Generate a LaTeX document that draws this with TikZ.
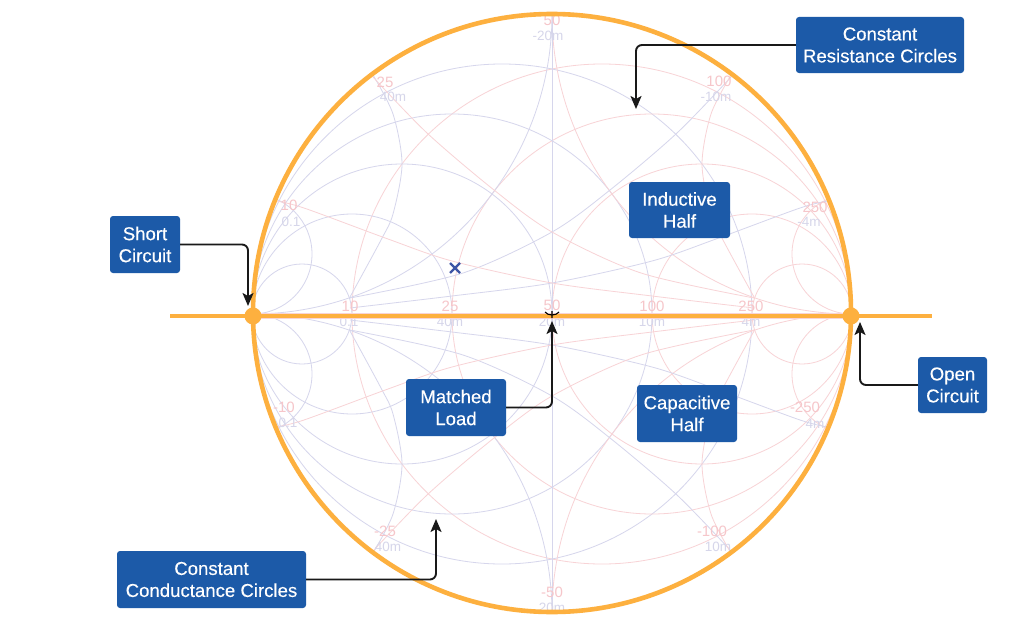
\documentclass[tikz,border=0pt]{standalone}
\usepackage{fontspec}
\setmainfont{Liberation Sans}
\newfontfamily\boxfont[FakeBold=0.25]{Liberation Sans}
\usetikzlibrary{arrows.meta}
\definecolor{orng}{HTML}{FDB03F}
\definecolor{boxb}{HTML}{1C5AA8}
\definecolor{redl}{HTML}{F8D3D6}
\definecolor{blul}{HTML}{D6D6EC}
\definecolor{redt}{HTML}{F6C6CA}
\definecolor{blut}{HTML}{D6D6EA}
\tikzset{
  redline/.style={draw=redl,line width=0.8pt},
  bluline/.style={draw=blul,line width=0.8pt},
  redlab/.style={text=redt,font=\fontsize{15}{15}\selectfont,inner sep=0pt},
  blulab/.style={text=blut,font=\fontsize{13.5}{13.5}\selectfont,inner sep=0pt},
  callout/.style={fill=boxb,draw=none,rounded corners=3pt,text=white,align=center,inner sep=0pt,
    font=\boxfont\fontsize{18.6}{22}\selectfont},
  leader/.style={draw=black!90,line width=1.9pt,rounded corners=6pt,-{Stealth[length=13pt,width=11pt,inset=3pt]}},
}
\newcommand{\bfive}{(-202,-16) (-89,-41) (0,-82) (58,-124) (125,-181) (179,-237)}
\newcommand{\btwo}{(-202,-6) (-100,-18) (0,-31) (100,-53) (164,-75) (248,-106) (276,-113)}
\newcommand{\bone}{(-202,-17) (-171,-74) (-159,-100) (-150,-150) (-159,-200) (-179,-239)}
\begin{document}
\begin{tikzpicture}[x=1pt,y=-1pt]
\useasboundingbox (0,0) rectangle (1024,626);
\fill[white] (0,0) rectangle (1024,626);
% chart grid
\begin{scope}[shift={(552,314)}]
  \clip (0,0) circle[radius=299];
  \foreach \v in {0.2,0.5,1,2,5} {
    \pgfmathsetmacro\cc{300*\v/(1+\v)}
    \pgfmathsetmacro\rr{300/(1+\v)}
    \draw[redline] (\cc,0) circle[radius=\rr];
    \draw[bluline] (-\cc,0) circle[radius=\rr];
  }
  \foreach \v in {1,5} {
    \pgfmathsetmacro\rr{300/\v}
    \draw[redline] (300,\rr) circle[radius=\rr];
    \draw[redline] (300,-\rr) circle[radius=\rr];
    \draw[bluline] (-300,\rr) circle[radius=\rr];
    \draw[bluline] (-300,-\rr) circle[radius=\rr];
  }
  \draw[bluline] (0,-300) -- (0,300);
  \foreach \sx/\sy/\st in {1/1/bluline,1/-1/bluline,-1/1/redline,-1/-1/redline} {
    \begin{scope}[xscale=\sx,yscale=\sy]
      \draw[\st] plot[smooth] coordinates {\bfive};
      \draw[\st] plot[smooth] coordinates {\btwo};
      \draw[\st] plot[smooth] coordinates {\bone};
    \end{scope}
  }
\end{scope}
% faint labels
\foreach \x/\y/\t [count=\i] in {552/20/50,385/82/25,289/205/10,719/81/100,815/207/250,
  350/306/10,450/306/25,552/305/50,652/306/100,751/306/250,
  552/592/-50,385/531/-25,284/407/-10,712/531/-100,805/407/-250}
  \node[redlab] (rl\i) at (\x,\y) {\t};
\foreach \x/\y/\t [count=\i] in {548/36/-20m,393/97/40m,291/222/0.1,716/97/-10m,809/222/-4m,
  349/322/0.1,450/322/40m,552/322/20m,652/322/10m,751/322/4m,
  552/608/20m,388/547/40m,288/423/0.1,718/547/10m,815/424/4m}
  \node[blulab] (bl\i) at (\x,\y) {\t};
% main circle and axis
\draw[redl,line width=6pt] (255,316) -- (850,316);
\draw[orng,line width=4.6pt] (552,313) circle[radius=299];
\draw[orng,line width=4pt] (170,316) -- (932,316);
\node[circle,fill=orng,minimum size=17pt,inner sep=0pt] (sc) at (253,316) {};
\node[circle,fill=orng,minimum size=17pt,inner sep=0pt] (oc) at (851,316) {};
% marker
\draw[draw={rgb,255:red,61;green,85;blue,165},line width=2.2pt] (450,263) -- (460,273) (450,273) -- (460,263);
% centre mark
\draw[black,line width=1.1pt] (545,312) .. controls (548,316) and (556,316) .. (559,312) (552,311) -- (552,318);
% callouts
\node[callout,minimum width=70pt,minimum height=57pt] (short) at (145,244.5) {Short\\Circuit};
\node[callout,minimum width=69pt,minimum height=56pt] (open) at (952.5,385) {Open\\Circuit};
\node[callout,minimum width=101pt,minimum height=56pt] (ind) at (679.5,210) {Inductive\\Half};
\node[callout,minimum width=100pt,minimum height=57pt] (cap) at (687,413.5) {Capacitive\\Half};
\node[callout,minimum width=100pt,minimum height=57pt] (match) at (456,407.5) {Matched\\Load};
\node[callout,minimum width=189pt,minimum height=57pt] (cond) at (211.5,579.5) {Constant\\Conductance Circles};
\node[callout,minimum width=168pt,minimum height=56pt] (res) at (880,45) {Constant\\Resistance Circles};
% leader targets
\coordinate (tshort) at (248,306);
\coordinate (tres) at (636,109);
\coordinate (tcond) at (436,519);
\coordinate (tmatch) at (552,321);
\coordinate (topen) at (860,322);
\draw[leader] (short.east) -| (tshort);
\draw[leader] (res.west) -| (tres);
\draw[leader] (cond.east) -| (tcond);
\draw[leader] (match.east) -| (tmatch);
\draw[leader] (open.west) -| (topen);
\end{tikzpicture}
\end{document}
